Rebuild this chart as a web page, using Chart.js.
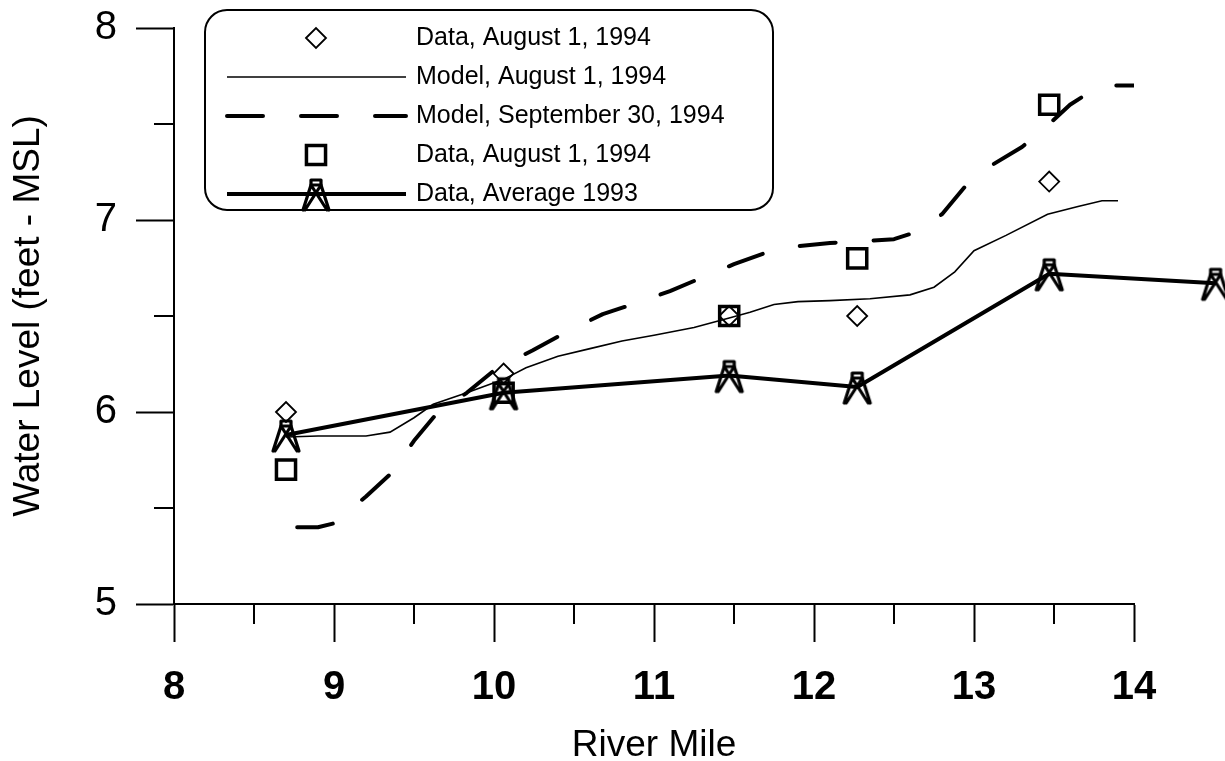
<!DOCTYPE html>
<html>
<head>
<meta charset="utf-8">
<script src="https://cdn.jsdelivr.net/npm/chart.js@4/dist/chart.umd.min.js"></script>
<style>
html,body{margin:0;padding:0;background:#fff;}
#wrap{width:1225px;height:761px;position:relative;}
</style>
</head>
<body>
<div id="wrap"><canvas id="c" width="1225" height="761"></canvas></div>
<script>
// ---------- data ----------
const seriesLabels = [
  'Data, August 1, 1994',
  'Model, August 1, 1994',
  'Model, September 30, 1994',
  'Data, August 1, 1994',
  'Data, Average 1993'
];
const diamondMiles  = [8.70, 10.06, 11.47, 12.27, 13.47];
const diamondLevels = [6.00, 6.20, 6.50, 6.50, 7.20];

const squareMiles  = [8.70, 10.06, 11.47, 12.27, 13.47];
const squareLevels = [5.70, 6.10, 6.50, 6.80, 7.60];

const avgMiles  = [8.70, 10.06, 11.47, 12.27, 13.47, 14.51];
const avgLevels = [5.88, 6.10, 6.19, 6.13, 6.72, 6.67];

const modelAugMiles  = [8.70, 8.90, 9.20, 9.35, 9.50, 9.62, 9.83, 10.06, 10.20, 10.40, 10.60, 10.80, 11.00, 11.25, 11.47, 11.60, 11.75, 11.90, 12.10, 12.35, 12.60, 12.75, 12.88, 13.00, 13.20, 13.46, 13.65, 13.80, 13.90];
const modelAugLevels = [5.87, 5.875, 5.875, 5.895, 5.97, 6.04, 6.10, 6.17, 6.23, 6.29, 6.33, 6.37, 6.40, 6.44, 6.49, 6.52, 6.56, 6.575, 6.58, 6.59, 6.61, 6.65, 6.73, 6.84, 6.92, 7.03, 7.07, 7.10, 7.10];

const modelSepMiles  = [8.77, 8.90, 9.00, 9.20, 9.37, 9.50, 9.65, 9.83, 10.02, 10.24, 10.46, 10.68, 10.90, 11.10, 11.30, 11.50, 11.70, 11.85, 12.10, 12.30, 12.50, 12.65, 12.80, 12.95, 13.10, 13.30, 13.47, 13.60, 13.75, 13.85, 14.00];
const modelSepLevels = [5.40, 5.40, 5.42, 5.56, 5.69, 5.85, 6.00, 6.10, 6.23, 6.32, 6.42, 6.51, 6.57, 6.63, 6.70, 6.77, 6.83, 6.86, 6.88, 6.89, 6.90, 6.94, 7.03, 7.18, 7.28, 7.38, 7.50, 7.60, 7.68, 7.70, 7.70];

const xMinorTicks = [8.5, 9.5, 10.5, 11.5, 12.5, 13.5];
const yMinorTicks = [5.5, 6.5, 7.5];

const xTitle = 'River Mile';
const yTitle = 'Water Level (feet - MSL)';

// ---------- helpers ----------
const pts = (xs, ys) => xs.map((x, i) => ({x: x, y: ys[i]}));
const FONT = '"Liberation Sans", Arial, sans-serif';

function makeTower() {
  const c = document.createElement('canvas');
  c.width = 34; c.height = 38;
  const g = c.getContext('2d');
  const cx = 17, t = 5, b = 35;
  g.strokeStyle = '#000';
  g.lineWidth = 3.2;
  g.lineJoin = 'round';
  g.lineCap = 'round';
  g.strokeRect(cx - 5, t, 10, 5);
  g.beginPath();
  g.moveTo(cx - 5, t + 5); g.lineTo(cx - 13, b);
  g.moveTo(cx + 5, t + 5); g.lineTo(cx + 13, b);
  g.moveTo(cx - 5, t + 5); g.lineTo(cx + 11, b);
  g.moveTo(cx + 5, t + 5); g.lineTo(cx - 11, b);
  g.stroke();
  return c;
}
const tower = makeTower();

const minorTicks = {
  id: 'minorTicks',
  afterDraw(chart) {
    const {ctx} = chart;
    const x = chart.scales.x, y = chart.scales.y;
    ctx.save();
    ctx.strokeStyle = '#000';
    ctx.lineWidth = 2;
    ctx.beginPath();
    xMinorTicks.forEach(v => {
      const px = Math.round(x.getPixelForValue(v));
      ctx.moveTo(px, x.top); ctx.lineTo(px, x.top + 20);
    });
    yMinorTicks.forEach(v => {
      const py = Math.round(y.getPixelForValue(v));
      ctx.moveTo(y.right, py); ctx.lineTo(y.right - 20, py);
    });
    ctx.stroke();
    ctx.restore();
  }
};

// draws markers whose position lies beyond the axis end (Chart.js skips those)
const outsidePoints = {
  id: 'outsidePoints',
  afterDatasetsDraw(chart) {
    const ctx = chart.ctx;
    const area = chart.chartArea;
    chart.data.datasets.forEach((ds, i) => {
      if (typeof ds.pointStyle !== 'object') return;
      const meta = chart.getDatasetMeta(i);
      meta.data.forEach(el => {
        if (el.x > area.right + 1 || el.x < area.left - 1) {
          Chart.helpers.drawPoint(ctx, {pointStyle: ds.pointStyle, radius: ds.pointRadius, rotation: 0}, el.x, el.y);
        }
      });
    });
  }
};

function roundedRect(ctx, x, y, w, h, r) {
  ctx.beginPath();
  ctx.moveTo(x + r, y);
  ctx.lineTo(x + w - r, y);
  ctx.arcTo(x + w, y, x + w, y + r, r);
  ctx.lineTo(x + w, y + h - r);
  ctx.arcTo(x + w, y + h, x + w - r, y + h, r);
  ctx.lineTo(x + r, y + h);
  ctx.arcTo(x, y + h, x, y + h - r, r);
  ctx.lineTo(x, y + r);
  ctx.arcTo(x, y, x + r, y, r);
  ctx.closePath();
}

const boxLegend = {
  id: 'boxLegend',
  afterDraw(chart) {
    const ctx = chart.ctx;
    const o = chart.options.plugins.boxLegend;
    ctx.save();
    roundedRect(ctx, o.left, o.top, o.width, o.height, o.radius);
    ctx.fillStyle = '#fff';
    ctx.fill();
    ctx.lineWidth = 2;
    ctx.strokeStyle = '#000';
    ctx.stroke();
    chart.data.datasets.forEach((ds, i) => {
      const y = o.firstRow + i * o.rowGap;
      ctx.strokeStyle = '#000';
      if (ds.showLine) {
        ctx.beginPath();
        ctx.setLineDash(ds.borderDash || []);
        ctx.lineCap = ds.borderCapStyle || 'butt';
        ctx.lineWidth = ds.borderWidth;
        ctx.moveTo(o.lineStart, y);
        ctx.lineTo(o.lineEnd, y);
        ctx.stroke();
        ctx.setLineDash([]);
        ctx.lineCap = 'butt';
      }
      if (ds.pointRadius > 0) {
        ctx.fillStyle = 'rgba(0,0,0,0)';
        ctx.lineWidth = ds.pointBorderWidth;
        Chart.helpers.drawPoint(ctx, {
          pointStyle: ds.pointStyle, radius: ds.pointRadius,
          borderWidth: ds.pointBorderWidth, rotation: 0
        }, o.markerX, y);
      }
      ctx.fillStyle = '#000';
      ctx.font = o.fontSize + 'px ' + FONT;
      ctx.textBaseline = 'middle';
      ctx.textAlign = 'left';
      ctx.fillText(ds.label, o.textX, y);
    });
    ctx.restore();
  }
};

const axisCommon = {
  grid: {drawOnChartArea: false, drawTicks: true, tickLength: 38, tickWidth: 2, tickColor: '#000'},
  border: {display: true, width: 2, color: '#000'}
};

new Chart(document.getElementById('c'), {
  type: 'scatter',
  data: {
    datasets: [
      {
        label: seriesLabels[0],
        data: pts(diamondMiles, diamondLevels),
        showLine: false,
        pointStyle: 'rectRot',
        pointRadius: 10,
        pointBorderWidth: 1.8,
        pointBorderColor: '#000',
        pointBackgroundColor: 'rgba(0,0,0,0)'
      },
      {
        label: seriesLabels[1],
        data: pts(modelAugMiles, modelAugLevels),
        showLine: true,
        borderColor: '#000',
        borderWidth: 1.6,
        pointRadius: 0,
        tension: 0
      },
      {
        label: seriesLabels[2],
        data: pts(modelSepMiles, modelSepLevels),
        showLine: true,
        borderColor: '#000',
        borderWidth: 4,
        borderDash: [36, 38],
        borderCapStyle: 'round',
        borderJoinStyle: 'round',
        pointRadius: 0,
        tension: 0
      },
      {
        label: seriesLabels[3],
        data: pts(squareMiles, squareLevels),
        showLine: false,
        pointStyle: 'rect',
        pointRadius: 13.5,
        pointBorderWidth: 3.5,
        pointBorderColor: '#000',
        pointBackgroundColor: 'rgba(0,0,0,0)'
      },
      {
        label: seriesLabels[4],
        data: pts(avgMiles, avgLevels),
        showLine: true,
        borderColor: '#000',
        borderWidth: 4,
        borderJoinStyle: 'round',
        pointStyle: tower,
        pointRadius: 14,
        pointBorderWidth: 0,
        tension: 0,
        clip: false
      }
    ]
  },
  options: {
    responsive: false,
    devicePixelRatio: 1,
    animation: false,
    events: [],
    layout: {padding: {left: 0, top: 28, right: 91, bottom: 0}},
    plugins: {
      legend: {display: false},
      tooltip: {enabled: false},
      boxLegend: {
        left: 205, top: 10, width: 568, height: 200, radius: 22,
        firstRow: 38, rowGap: 39,
        lineStart: 227, lineEnd: 406, markerX: 316, textX: 416, fontSize: 25
      }
    },
    scales: {
      x: Object.assign({}, axisCommon, {
        type: 'linear', min: 8, max: 14,
        ticks: {stepSize: 1, color: '#000', padding: 22, maxRotation: 0, autoSkip: false,
                font: {family: FONT, size: 40, weight: 'bold'}},
        title: {display: true, text: xTitle, color: '#000', padding: 0,
                font: {family: FONT, size: 37, lineHeight: 0.8}},
        afterFit(s) { s.height = 157; }
      }),
      y: Object.assign({}, axisCommon, {
        type: 'linear', min: 5, max: 8,
        ticks: {stepSize: 1, color: '#000', padding: 19,
                font: {family: FONT, size: 40, lineHeight: 0.4}},
        title: {display: true, text: yTitle, color: '#000', padding: {top: 7, bottom: 0},
                font: {family: FONT, size: 37}},
        afterFit(s) { s.width = 174; }
      })
    }
  },
  plugins: [minorTicks, outsidePoints, boxLegend]
});
</script>
</body>
</html>
